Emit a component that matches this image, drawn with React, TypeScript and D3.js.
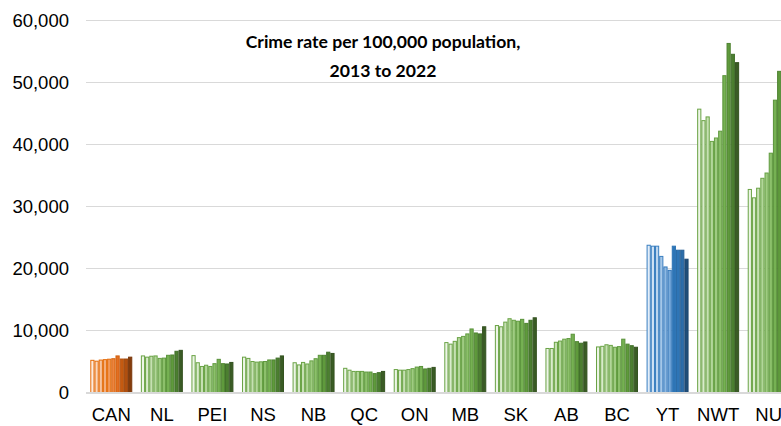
import React from "react";
import * as d3 from "d3";

const categories = ["CAN", "NL", "PEI", "NS", "NB", "QC", "ON", "MB", "SK", "AB", "BC", "YT", "NWT", "NU"];
const years = ["2013", "2014", "2015", "2016", "2017", "2018", "2019", "2020", "2021", "2022"];

const CAN = [5190, 5050, 5230, 5300, 5370, 5450, 5900, 5400, 5400, 5700];
const NL = [5900, 5700, 5850, 5900, 5500, 5550, 6000, 6050, 6650, 6800];
const PEI = [5950, 4800, 4200, 4400, 4200, 4650, 5350, 4650, 4600, 4850];
const NS = [5700, 5500, 5000, 4900, 4950, 5000, 5250, 5250, 5550, 5900];
const NB = [4800, 4450, 4850, 4600, 5100, 5450, 6000, 6000, 6500, 6300];
const QC = [3900, 3600, 3400, 3400, 3400, 3300, 3300, 3050, 3200, 3400];
const ON = [3700, 3600, 3600, 3700, 3850, 4100, 4200, 3800, 3900, 4050];
const MB = [8050, 7800, 8250, 8850, 9050, 9450, 10250, 9600, 9450, 10600];
const SK = [10800, 10600, 11350, 11900, 11650, 11500, 11800, 11150, 11650, 12050];
const AB = [7100, 7100, 8100, 8300, 8600, 8700, 9400, 8200, 7950, 8150];
const BC = [7350, 7450, 7700, 7600, 7300, 7400, 8600, 7800, 7550, 7300];
const YT = [23750, 23600, 23600, 21950, 20250, 19700, 23600, 22950, 22950, 21500];
const NWT = [45700, 43850, 44450, 40500, 41050, 42150, 51100, 56300, 54550, 53200];
const NU = [32750, 31400, 32950, 34550, 35400, 38600, 47150, 51800, 53600, 52000];

const seriesByCategory = [CAN, NL, PEI, NS, NB, QC, ON, MB, SK, AB, BC, YT, NWT, NU];
const yTicks = [0, 10000, 20000, 30000, 40000, 50000, 60000];
const titleLines = ["Crime rate per 100,000 population,", "2013 to 2022"];

const orangeFill = ["#fcebdf", "#f9d7be", "#f6c39e", "#f3ae7d", "#f0995c", "#ec8540", "#e36f22", "#c55a11", "#b04f0e", "#843c0c"];
const orangeStroke = ["#e46c0a", "#e46c0a", "#e46c0a", "#e46c0a", "#e46c0a", "#d8650e", "#d0600f", "#b4520f", "#9e470d", "#7a370b"];
const greenFill = ["#edf5e7", "#d9ebcc", "#c6e0b3", "#b2d69a", "#9fcb82", "#8cc06b", "#76b153", "#5f9a3c", "#4c7f30", "#3a5c25"];
const greenStroke = ["#6aa345", "#6aa345", "#6aa345", "#6aa345", "#66a043", "#609a3f", "#5a933a", "#4f8332", "#41702a", "#345220"];
const blueFill = ["#e3eef9", "#cfe2f4", "#bbd5ee", "#a5c7e8", "#8fb9e2", "#79abdb", "#2e75b6", "#2e75b6", "#2b6daa", "#1f4e79"];
const blueStroke = ["#3a7fc0", "#3a7fc0", "#3a7fc0", "#3a7fc0", "#377bbd", "#3477b9", "#2e75b6", "#2a6aa6", "#275f95", "#1c4670"];

const W = 781;
const H = 426;
const y0 = 392.5;
const yTop = 20.5;

export default function App() {
  const x = d3.scaleBand<string>().domain(categories).range([86, 794]).paddingInner(0.17).paddingOuter(0.085);
  const xi = d3.scaleBand<string>().domain(years).range([0, x.bandwidth()]);
  const y = d3.scaleLinear().domain([0, 60000]).range([y0, yTop]);
  const fmt = d3.format(",");

  return (
    <svg width={W} height={H} style={{ position: "absolute", left: 0, top: 0, display: "block" }}>
      <rect width={W} height={H} fill="#ffffff" />
      {yTicks.filter((t) => t > 0).map((t) => (
        <line key={t} x1={86} x2={W} y1={y(t)} y2={y(t)} stroke="#d9d9d9" strokeWidth={1} />
      ))}
      {yTicks.map((t) => (
        <text key={t} x={69} y={y(t)} dy="0.35em" textAnchor="end" fontFamily="Liberation Sans, Arial, sans-serif" fontSize={18.5} fill="#000">
          {fmt(t)}
        </text>
      ))}
      <g>
        {categories.map((c, ci) => {
          const fills = c === "CAN" ? orangeFill : c === "YT" ? blueFill : greenFill;
          const strokes = c === "CAN" ? orangeStroke : c === "YT" ? blueStroke : greenStroke;
          return (
            <g key={c} transform={`translate(${x(c)},0)`}>
              {seriesByCategory[ci].map((v, i) => (
                <rect
                  key={i}
                  x={(xi(years[i]) as number) + 0.5}
                  y={y(v)}
                  width={xi.bandwidth() - 1}
                  height={y0 - y(v)}
                  fill={fills[i]}
                  stroke={strokes[i]}
                  strokeWidth={1}
                />
              ))}
            </g>
          );
        })}
      </g>
      <line x1={86} x2={W} y1={y0 + 0.5} y2={y0 + 0.5} stroke="#d9d9d9" strokeWidth={2} />
      {categories.map((c) => (
        <text key={c} x={(x(c) as number) + x.bandwidth() / 2} y={421} textAnchor="middle" fontFamily="Liberation Sans, Arial, sans-serif" fontSize={18.5} fill="#000">
          {c}
        </text>
      ))}
      {titleLines.map((l, i) => (
        <text key={i} x={383} y={48 + i * 29} textAnchor="middle" fontFamily="Lato, Carlito, sans-serif" fontWeight="bold" fontSize={17.6} fill="#000">
          {l}
        </text>
      ))}
    </svg>
  );
}
